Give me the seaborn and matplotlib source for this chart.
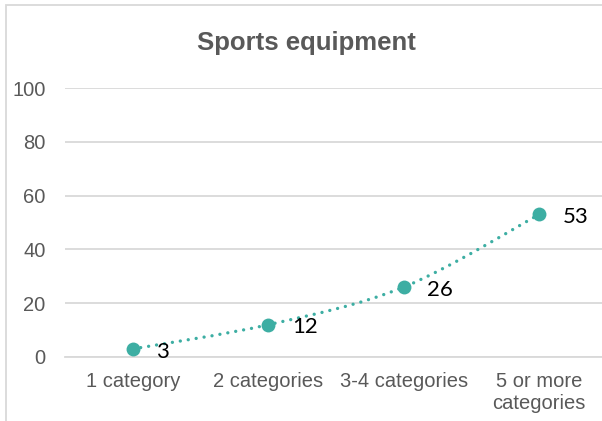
import numpy as np
import pandas as pd
import matplotlib
matplotlib.use("Agg")
import matplotlib.pyplot as plt
from matplotlib.patches import Rectangle, PathPatch
from matplotlib.path import Path
import seaborn as sns

categories = ["1 category", "2 categories", "3-4 categories", "5 or more\ncategories"]
values = [3, 12, 26, 53]
yticks = [0, 20, 40, 60, 80, 100]
title = "Sports equipment"

sns.set_theme(style="white")
plt.rcParams['font.family'] = ['Liberation Sans', 'DejaVu Sans']

teal = "#3DAEA3"
gray_txt = "#595959"
grid_c = "#D9D9D9"

df = pd.DataFrame({"pos": np.arange(len(categories)), "value": values})

fig = plt.figure(figsize=(6.02, 4.21), dpi=100)
ax = fig.add_axes([65/602, 1-357/421, (607-65)/602, (357-88)/421])

# chart-area border
fig.patches.append(Rectangle((6/602, -0.1), 2.0, (421-5)/421 + 0.1, transform=fig.transFigure,
                             fill=False, edgecolor=grid_c, linewidth=1.3, zorder=0))

# smoothed line (Catmull-Rom style Bezier through the data points)
P = np.column_stack([df["pos"].to_numpy(float), df["value"].to_numpy(float)])
ext = np.vstack([P[0], P, P[-1]])
verts = [tuple(P[0])]
codes = [Path.MOVETO]
for i in range(len(P) - 1):
    p0, p1, p2, p3 = ext[i], ext[i + 1], ext[i + 2], ext[i + 3]
    c1 = p1 + (p2 - p0) / 6.0
    c2 = p2 - (p3 - p1) / 6.0
    verts += [tuple(c1), tuple(c2), tuple(p2)]
    codes += [Path.CURVE4, Path.CURVE4, Path.CURVE4]
curve = PathPatch(Path(verts, codes), facecolor="none", edgecolor=teal, linewidth=2.4,
                  linestyle=(0, (0.01, 2.4)), capstyle="round", zorder=3)
ax.add_patch(curve)

sns.scatterplot(data=df, x="pos", y="value", ax=ax, color=teal, s=100,
                edgecolor=teal, linewidth=0, zorder=4)

for x, v in zip(df["pos"], values):
    ax.annotate(str(v), (x, v), xytext=(17, -2), textcoords="offset points",
                ha="left", va="center", fontsize=16, color="black", family=["Lato", "DejaVu Sans"])

ax.set_xlim(-0.5, 3.5)
ax.set_ylim(0, 100)
ax.set_yticks(yticks)
ax.set_yticklabels([str(t) for t in yticks])
ax.set_xticks(df["pos"])
ax.set_xticklabels(categories, linespacing=1.2)
ax.tick_params(axis="both", length=0, colors=gray_txt, labelsize=14.5)
ax.tick_params(axis="y", pad=14)
ax.tick_params(axis="x", pad=11)
ax.set_xlabel("")
ax.set_ylabel("")
ax.yaxis.grid(True, color=grid_c, linewidth=1.3)
ax.set_axisbelow(True)
for s in ["top", "right", "left"]:
    ax.spines[s].set_visible(False)
ax.spines["bottom"].set_color(grid_c)
ax.spines["bottom"].set_linewidth(1.3)
ax.patch.set_alpha(0)

fig.text(306/602, 1-43/421, title, ha="center", va="center", fontsize=18.5,
         fontweight="bold", color=gray_txt)

fig.savefig("out.png", dpi=100)
